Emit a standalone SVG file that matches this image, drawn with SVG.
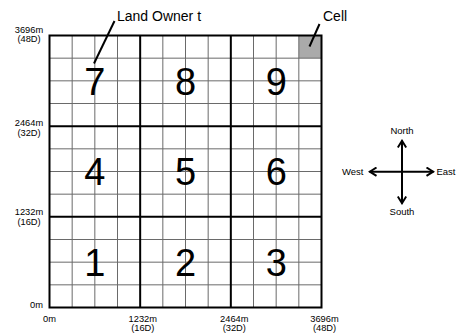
<svg xmlns="http://www.w3.org/2000/svg" width="457" height="333" viewBox="0 0 457 333">
<style>
text{font-family:"Liberation Sans",Arial,sans-serif;fill:#000}
.ax{font-size:9.3px;text-anchor:middle}
.num{font-size:38px;text-anchor:middle}
.lbl{font-size:14px}
.cmp{font-size:9.5px}
.thin{stroke:#6a6a6a;stroke-width:1}
.thick{stroke:#000;stroke-width:2;fill:none}
.lead{stroke:#000;stroke-width:2}
.arr{stroke:#000;stroke-width:2;fill:none}
</style>
<defs>
<marker id="chev" viewBox="0 0 10 10" refX="8.5" refY="5" markerWidth="5" markerHeight="5" orient="auto-start-reverse" markerUnits="strokeWidth">
<path d="M1.5,0.8 L8.2,5 L1.5,9.2" fill="none" stroke="#000" stroke-width="2"/>
</marker>
</defs>
<rect width="457" height="333" fill="#fff"/>
<g id="grid">
<rect id="cell" x="298.83" y="35.5" width="22.67" height="22.67" fill="#aaa"/>
<g class="thin">
<line x1="72.17" y1="35.5" x2="72.17" y2="307.5"/>
<line x1="94.83" y1="35.5" x2="94.83" y2="307.5"/>
<line x1="117.5" y1="35.5" x2="117.5" y2="307.5"/>
<line x1="162.83" y1="35.5" x2="162.83" y2="307.5"/>
<line x1="185.5" y1="35.5" x2="185.5" y2="307.5"/>
<line x1="208.17" y1="35.5" x2="208.17" y2="307.5"/>
<line x1="253.5" y1="35.5" x2="253.5" y2="307.5"/>
<line x1="276.17" y1="35.5" x2="276.17" y2="307.5"/>
<line x1="298.83" y1="35.5" x2="298.83" y2="307.5"/>
<line x1="49.5" y1="58.17" x2="321.5" y2="58.17"/>
<line x1="49.5" y1="80.83" x2="321.5" y2="80.83"/>
<line x1="49.5" y1="103.5" x2="321.5" y2="103.5"/>
<line x1="49.5" y1="148.83" x2="321.5" y2="148.83"/>
<line x1="49.5" y1="171.5" x2="321.5" y2="171.5"/>
<line x1="49.5" y1="194.17" x2="321.5" y2="194.17"/>
<line x1="49.5" y1="239.5" x2="321.5" y2="239.5"/>
<line x1="49.5" y1="262.17" x2="321.5" y2="262.17"/>
<line x1="49.5" y1="284.83" x2="321.5" y2="284.83"/>
</g>
<g class="thick">
<line x1="140.17" y1="35.5" x2="140.17" y2="307.5"/>
<line x1="230.83" y1="35.5" x2="230.83" y2="307.5"/>
<line x1="49.5" y1="126.17" x2="321.5" y2="126.17"/>
<line x1="49.5" y1="216.83" x2="321.5" y2="216.83"/>
<rect x="49.5" y="35.5" width="272" height="272"/>
</g>
</g>
<g id="land7"><text class="num" x="94.8" y="94.5">7</text></g>
<g id="land8"><text class="num" x="185.5" y="94.5">8</text></g>
<g id="land9"><text class="num" x="276.2" y="94.5">9</text></g>
<g id="land4"><text class="num" x="94.8" y="185.2">4</text></g>
<g id="land5"><text class="num" x="185.5" y="185.2">5</text></g>
<g id="land6"><text class="num" x="276.2" y="185.2">6</text></g>
<g id="land1"><text class="num" x="94.8" y="275.9">1</text></g>
<g id="land2"><text class="num" x="185.5" y="275.9">2</text></g>
<g id="land3"><text class="num" x="276.2" y="275.9">3</text></g>
<g id="yaxis">
<text class="ax" x="29" y="33.3">3696m</text><text class="ax" x="29" y="42.2">(48D)</text>
<text class="ax" x="29" y="126">2464m</text><text class="ax" x="29" y="135.5">(32D)</text>
<text class="ax" x="29" y="215.3">1232m</text><text class="ax" x="29" y="224.8">(16D)</text>
<text class="ax" x="43" y="308" style="text-anchor:end">0m</text>
</g>
<g id="xaxis">
<text class="ax" x="49.5" y="322">0m</text>
<text class="ax" x="142.8" y="322">1232m</text><text class="ax" x="142.8" y="331">(16D)</text>
<text class="ax" x="234.3" y="322">2464m</text><text class="ax" x="234.3" y="331">(32D)</text>
<text class="ax" x="324.5" y="322">3696m</text><text class="ax" x="324.5" y="331">(48D)</text>
</g>
<g id="landowner"><text class="lbl" x="117" y="21">Land Owner t</text></g>
<g id="celllabel"><text class="lbl" x="323" y="21">Cell</text></g>
<g id="compass">
<text class="cmp" x="402" y="134" text-anchor="middle">North</text>
<text class="cmp" x="402" y="215" text-anchor="middle">South</text>
<text class="cmp" x="363.5" y="175" text-anchor="end">West</text>
<text class="cmp" x="436.5" y="175">East</text>
</g>
<g id="connectors">
<line class="lead" x1="114.5" y1="21" x2="94" y2="63.5"/>
<line class="lead" x1="319.5" y1="24" x2="309.5" y2="46.5"/>
<line class="arr" x1="402" y1="140.5" x2="402" y2="203.5" marker-start="url(#chev)" marker-end="url(#chev)"/>
<line class="arr" x1="369.5" y1="171.7" x2="433.5" y2="171.7" marker-start="url(#chev)" marker-end="url(#chev)"/>
</g>
</svg>
